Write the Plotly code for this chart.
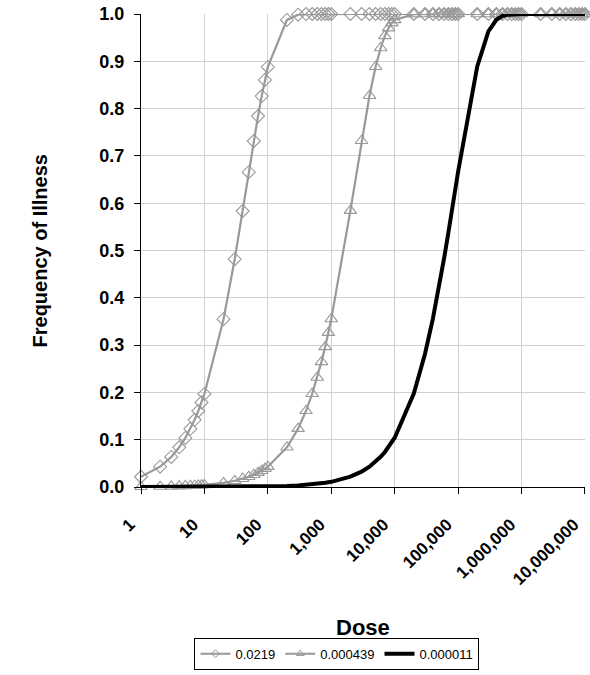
import plotly.graph_objects as go

doses = [1, 2, 3, 4, 5, 6, 7, 8, 9,
         10, 20, 30, 40, 50, 60, 70, 80, 90,
         100, 200, 300, 400, 500, 600, 700, 800, 900,
         1000, 2000, 3000, 4000, 5000, 6000, 7000, 8000, 9000,
         10000, 20000, 30000, 40000, 50000, 60000, 70000, 80000, 90000,
         100000, 200000, 300000, 400000, 500000, 600000, 700000, 800000, 900000,
         1000000, 2000000, 3000000, 4000000, 5000000, 6000000, 7000000, 8000000, 9000000,
         10000000]

freq_0219 = [0.0217, 0.0429, 0.0636, 0.0839, 0.1037, 0.1231, 0.1421, 0.1607, 0.1789,
             0.1967, 0.3547, 0.4816, 0.5835, 0.6655, 0.7313, 0.7841, 0.8266, 0.8607,
             0.8881, 0.9875, 0.9986, 0.9998, 1.0, 1.0, 1.0, 1.0, 1.0,
             1.0, 1.0, 1.0, 1.0, 1.0, 1.0, 1.0, 1.0, 1.0,
             1.0, 1.0, 1.0, 1.0, 1.0, 1.0, 1.0, 1.0, 1.0,
             1.0, 1.0, 1.0, 1.0, 1.0, 1.0, 1.0, 1.0, 1.0,
             1.0, 1.0, 1.0, 1.0, 1.0, 1.0, 1.0, 1.0, 1.0,
             1.0]

freq_000439 = [0.0004, 0.0009, 0.0013, 0.0018, 0.0022, 0.0026, 0.0031, 0.0035, 0.0039,
               0.0044, 0.0087, 0.0131, 0.0174, 0.0217, 0.0260, 0.0303, 0.0345, 0.0387,
               0.0430, 0.0840, 0.1234, 0.1611, 0.1971, 0.2316, 0.2646, 0.2962, 0.3264,
               0.3553, 0.5844, 0.7321, 0.8273, 0.8886, 0.9282, 0.9537, 0.9702, 0.9808,
               0.9876, 0.9998, 1.0, 1.0, 1.0, 1.0, 1.0, 1.0, 1.0,
               1.0, 1.0, 1.0, 1.0, 1.0, 1.0, 1.0, 1.0, 1.0,
               1.0, 1.0, 1.0, 1.0, 1.0, 1.0, 1.0, 1.0, 1.0,
               1.0]

freq_000011 = [0.00001, 0.00002, 0.00003, 0.00004, 0.00006, 0.00007, 0.00008, 0.00009, 0.0001,
               0.0001, 0.0002, 0.0003, 0.0004, 0.0005, 0.0007, 0.0008, 0.0009, 0.0010,
               0.0011, 0.0022, 0.0033, 0.0044, 0.0055, 0.0066, 0.0077, 0.0088, 0.0099,
               0.0109, 0.0218, 0.0325, 0.0430, 0.0535, 0.0639, 0.0741, 0.0842, 0.0943,
               0.1042, 0.1975, 0.2811, 0.3560, 0.4231, 0.4832, 0.5370, 0.5852, 0.6284,
               0.6671, 0.8892, 0.9631, 0.9877, 0.9959, 0.9986, 0.9995, 0.9998, 1.0,
               1.0, 1.0, 1.0, 1.0, 1.0, 1.0, 1.0, 1.0, 1.0,
               1.0]

series_names = ["0.0219", "0.000439", "0.000011"]
x_tick_vals = [1, 10, 100, 1000, 10000, 100000, 1000000, 10000000]
x_tick_text = ["1", "10", "100", "1,000", "10,000", "100,000", "1,000,000", "10,000,000"]
y_tick_vals = [0.0, 0.1, 0.2, 0.3, 0.4, 0.5, 0.6, 0.7, 0.8, 0.9, 1.0]
x_title = "Dose"
y_title = "Frequency of Illness"

GREY = "#999999"
FONT = "Liberation Sans, Arial, sans-serif"

fig = go.Figure()
# data traces
fig.add_trace(go.Scatter(
    x=doses, y=freq_0219, name=series_names[0], mode="lines+markers", showlegend=False,
    line=dict(color=GREY, width=2.2),
    marker=dict(symbol="diamond-open", size=10, color=GREY, line=dict(width=1.1, color=GREY)),
    cliponaxis=False))
fig.add_trace(go.Scatter(
    x=doses, y=freq_000439, name=series_names[1], mode="lines+markers", showlegend=False,
    line=dict(color=GREY, width=2.2),
    marker=dict(symbol="triangle-up-open", size=11, color=GREY, line=dict(width=1.1, color=GREY)),
    cliponaxis=False))
fig.add_trace(go.Scatter(
    x=doses, y=freq_000011, name=series_names[2], mode="lines", showlegend=False,
    line=dict(color="#000000", width=4),
    cliponaxis=False))
# legend-only samples with small markers, like the original legend
fig.add_trace(go.Scatter(
    x=[None], y=[None], name=series_names[0], mode="lines+markers",
    line=dict(color=GREY, width=2),
    marker=dict(symbol="diamond-open", size=6, color=GREY, line=dict(width=1, color=GREY))))
fig.add_trace(go.Scatter(
    x=[None], y=[None], name=series_names[1], mode="lines+markers",
    line=dict(color=GREY, width=2),
    marker=dict(symbol="triangle-up-open", size=7, color=GREY, line=dict(width=1, color=GREY))))
fig.add_trace(go.Scatter(
    x=[None], y=[None], name=series_names[2], mode="lines",
    line=dict(color="#000000", width=4)))

fig.update_layout(
    width=590, height=675,
    margin=dict(l=141, r=5, t=14, b=184),
    paper_bgcolor="white", plot_bgcolor="white",
    font=dict(family=FONT, color="black"),
    showlegend=True,
    hovermode=False,
    legend=dict(orientation="h", x=0.4414, xanchor="center", y=-0.3187, yanchor="top",
                bordercolor="black", borderwidth=1, font=dict(size=13, family=FONT),
                itemwidth=30, tracegroupgap=0, itemclick=False),
    xaxis=dict(type="log", range=[0, 7.0001], tickvals=x_tick_vals, ticktext=x_tick_text,
               tickangle=-45, tickfont=dict(size=17, weight="bold", family=FONT),
               ticklabelstandoff=14, ticklabelshift=-11, ticklabeloverflow="allow",
               showgrid=True, gridcolor="#d0d0d0", gridwidth=1,
               showline=True, linecolor="black", linewidth=1, automargin=False,
               ticks="outside", ticklen=6, tickcolor="black", zeroline=False),
    yaxis=dict(range=[0, 1], tickvals=y_tick_vals, tickformat=".1f",
               tickfont=dict(size=18, weight="bold", family=FONT),
               ticklabelstandoff=6, ticklabeloverflow="allow",
               showgrid=True, gridcolor="#d0d0d0", gridwidth=1,
               showline=True, linecolor="black", linewidth=1, automargin=False,
               ticks="outside", ticklen=6, tickcolor="black", zeroline=False),
    annotations=[
        dict(text=x_title, xref="paper", yref="paper", x=0.5, y=-0.297,
             xanchor="center", yanchor="middle", showarrow=False,
             font=dict(size=22, weight="bold", family=FONT)),
        dict(text=y_title, xref="paper", yref="paper", x=-0.2275, y=0.5,
             xanchor="center", yanchor="middle", showarrow=False, textangle=-90,
             font=dict(size=20, weight="bold", family=FONT)),
    ],
)

# remove the default 8px page margin so the figure fills the window exactly
fig.write_html("out.html", config={"displayModeBar": False},
               post_script="document.body.style.margin='0';")
